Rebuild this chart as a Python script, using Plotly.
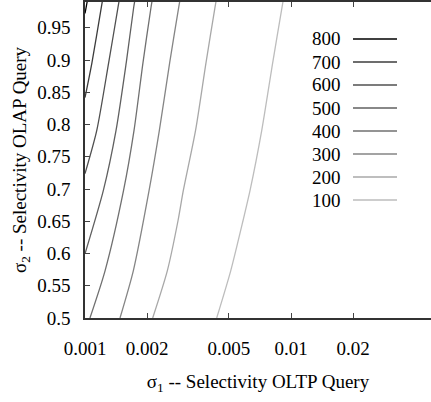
import plotly.graph_objects as go

# Contour levels (legend order is top = 800)
levels = [800, 700, 600, 500, 400, 300, 200, 100]
colors = ["#000000", "#3c3c3c", "#505050", "#606060", "#707070", "#858585", "#a8a8a8", "#bdbdbd"]

# contour line coordinates: (sigma1, sigma2)
y800 = [1.0, 0.9893, 0.9722]
x800 = [0.001034, 0.001023, 0.001000]

y700 = [1.0, 0.9815, 0.8961, 0.8418]
x700 = [0.001227, 0.001200, 0.001081, 0.001000]

y600 = [1.0, 0.9815, 0.8961, 0.7905, 0.7238]
x600 = [0.001479, 0.001446, 0.001303, 0.001140, 0.001000]

y500 = [1.0, 0.9815, 0.8961, 0.7905, 0.6974, 0.5995]
x500 = [0.001763, 0.001723, 0.001586, 0.001414, 0.001227, 0.001000]

y400 = [1.0, 0.9815, 0.8961, 0.7905, 0.6974, 0.5731, 0.5]
x400 = [0.002138, 0.002091, 0.001912, 0.001729, 0.001538, 0.001251, 0.001057]

y300 = [1.0, 0.9815, 0.8961, 0.7905, 0.6974, 0.5731, 0.5]
x300 = [0.002914, 0.002850, 0.002577, 0.002295, 0.002046, 0.001716, 0.001479]

y200 = [1.0, 0.9815, 0.8961, 0.7905, 0.6974, 0.6508, 0.5731, 0.5]
x200 = [0.004373, 0.004276, 0.003868, 0.003439, 0.003000, 0.002828, 0.002509, 0.002131]

y100 = [1.0, 0.9815, 0.8961, 0.7905, 0.6974, 0.6508, 0.5731, 0.5]
x100 = [0.009247, 0.009044, 0.008152, 0.007208, 0.006324, 0.005848, 0.005097, 0.004358]

xs = [x800, x700, x600, x500, x400, x300, x200, x100]
ys = [y800, y700, y600, y500, y400, y300, y200, y100]

x_tickvals = [0.001, 0.002, 0.005, 0.01, 0.02]
x_ticktext = ["0.001", "0.002", "0.005", "0.01", "0.02"]
y_tickvals = [0.5, 0.55, 0.6, 0.65, 0.7, 0.75, 0.8, 0.85, 0.9, 0.95]
y_ticktext = ["0.5", "0.55", "0.6", "0.65", "0.7", "0.75", "0.8", "0.85", "0.9", "0.95"]

FONT = "Liberation Serif"
FS = 19
font = dict(family=FONT, size=FS, color="#000")

fig = go.Figure()
for lev, col, xv, yv in zip(levels, colors, xs, ys):
    fig.add_trace(go.Scatter(
        x=xv, y=yv, mode="lines", name=str(lev),
        line=dict(color=col, width=1.3, shape="spline", smoothing=0.7),
        showlegend=False, hoverinfo="skip",
    ))

# gnuplot-style key: label then line sample
row0, dy = 39, 23
for i, (lev, col) in enumerate(zip(levels, colors)):
    py = row0 + i * dy
    yp = (318 - py) / 316
    fig.add_annotation(xref="paper", yref="paper", x=(343 - 85) / 346, y=yp,
                       text=str(lev), showarrow=False, xanchor="right", yanchor="middle",
                       font=font)
    fig.add_shape(type="line", xref="paper", yref="paper",
                  x0=(353 - 85) / 346, x1=(397 - 85) / 346, y0=yp, y1=yp,
                  line=dict(color=col, width=1.3))

fig.update_layout(
    width=431, height=402,
    margin=dict(l=85, r=0, t=2, b=84),
    paper_bgcolor="white", plot_bgcolor="white",
    font=font,
    xaxis=dict(
        type="log", range=[-3, -3 + 346 / 206],
        tickvals=x_tickvals, ticktext=x_ticktext, tickfont=font,
        ticks="inside", ticklen=5, tickwidth=1, tickcolor="#444",
        showline=True, linecolor="#333", linewidth=1.5, mirror="ticks",
        showgrid=False, zeroline=False, ticklabelstandoff=12,
        title=dict(text="σ<sub>1</sub> -- Selectivity OLTP Query", standoff=17,
                   font=font),
    ),
    yaxis=dict(
        range=[0.5, 0.99],
        tickvals=y_tickvals, ticktext=y_ticktext, tickfont=font,
        ticks="inside", ticklen=5, tickwidth=1, tickcolor="#444",
        showline=True, linecolor="#333", linewidth=1.5, mirror=False,
        showgrid=False, zeroline=False, ticklabelstandoff=9,
        title=dict(text="σ<sub>2</sub> -- Selectivity OLAP Query", standoff=6,
                   font=font),
    ),
    yaxis2=dict(
        overlaying="y", side="right", range=[0.5, 0.99],
        tickvals=y_tickvals, showticklabels=False,
        ticks="inside", ticklen=5, tickwidth=1, tickcolor="#444",
        showline=False, showgrid=False, zeroline=False,
    ),
)

fig.write_html("out.html", config={"displayModeBar": False},
               post_script="document.body.style.margin='0';")
